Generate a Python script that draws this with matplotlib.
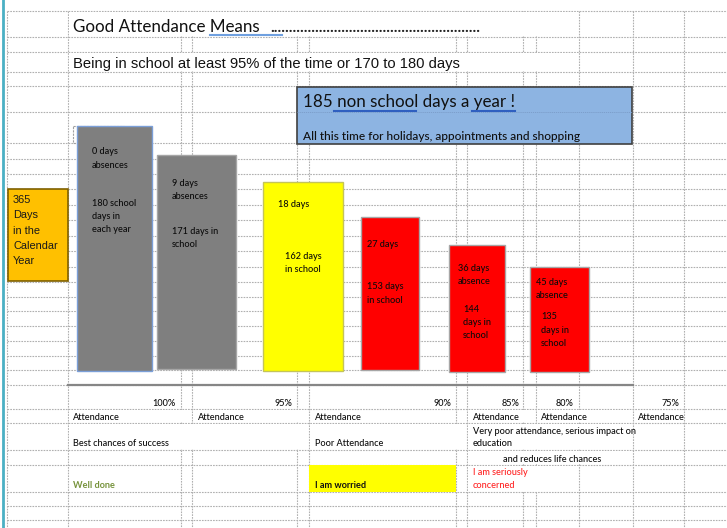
import matplotlib
matplotlib.use('Agg')
import matplotlib.pyplot as plt
from matplotlib.patches import Rectangle

# ---------------- data ----------------
absence_days = [0, 9, 18, 27, 36, 45]
school_days = [180, 171, 162, 153, 144, 135]
bar_heights = [245, 214, 189, 153, 127, 105]   # drawn heights read from the sheet
attendance_pct = ['100%', '95%', '90%', '85%', '80%', '75%']
calendar_days = 365
non_school_days = 185

top_labels = [
    [f'{absence_days[0]} days', 'absences'],
    [f'{absence_days[1]} days', 'absences'],
    [f'{absence_days[2]} days'],
    [f'{absence_days[3]} days'],
    [f'{absence_days[4]} days', 'absence'],
    [f'{absence_days[5]} days', 'absence'],
]
bottom_labels = [
    [f'{school_days[0]} school', 'days in', 'each year'],
    [f'{school_days[1]} days in', 'school'],
    [f'{school_days[2]} days', 'in school'],
    [f'{school_days[3]} days', 'in school'],
    [f'{school_days[4]}', 'days in', 'school'],
    [f'{school_days[5]}', 'days in', 'school'],
]

# ---------------- layout ----------------
W, H = 727, 528
bar_left = [77, 157, 263, 361, 449, 530]
bar_width = [75, 79, 80, 58, 56, 59]
bar_bottom = [371, 369, 371, 370, 372, 372]
bar_colors = ['#7f7f7f', '#7f7f7f', '#ffff00', '#ff0000', '#ff0000', '#ff0000']
bar_edges = ['#7b9fd8', '#a6a6a6', '#c4c45a', '#a6a6a6', '#a6a6a6', '#a6a6a6']
top_x = [92, 172, 278, 367, 458, 536]
top_y = [154.3, 185.7, 206.7, 246.7, 270.7, 284.7]
bot_x = [92, 172, 285, 367, 463, 541]
bot_y = [205.7, 233.7, 259, 289.3, 311.7, 319.3]
line_step = 13.3
pct_right = [176, 292, 451, 519, 574, 679]

VX = [7, 68, 181, 192, 297, 309, 456, 467, 523, 536, 579, 633, 684]
HY = [11, 37, 52, 72, 86, 112, 143, 159, 174, 189, 205, 220, 236, 251, 267,
      282, 297, 311, 326, 341, 356, 370, 385, 409, 423, 450, 465, 492, 506, 520]
merged = [(68, 579, 11, 37), (68, 579, 52, 72),
          (68, 192, 409, 423), (192, 309, 409, 423), (467, 536, 409, 423), (536, 633, 409, 423),
          (68, 309, 423, 450), (309, 467, 423, 450), (467, 633, 423, 450),
          (467, 633, 450, 465), (467, 579, 465, 492)]

CAL = ['Lato', 'DejaVu Sans']
ARI = ['Liberation Sans', 'DejaVu Sans']
TXT = '#0a0a0a'
SW = 500

fig = plt.figure(figsize=(W / 100, H / 100), dpi=100)
ax = fig.add_axes([0, 0, 1, 1])
ax.set_xlim(0, W)
ax.set_ylim(H, 0)
ax.axis('off')
renderer = fig.canvas.get_renderer()


def fit_size(s, width, family, weight='normal'):
    t = ax.text(0, 0, s, fontsize=10, family=family, weight=weight)
    w = t.get_window_extent(renderer).width
    t.remove()
    return 10 * width / w


# ---------------- grid ----------------
gstyle = dict(color='#b0b0b0', lw=0.8, linestyle=(0, (1.5, 1.0)), zorder=1)
for x in VX:
    ax.plot([x, x], [11, H], **gstyle)
for y in HY:
    ax.plot([7, W], [y, y], **gstyle)
for (x0, x1, y0, y1) in merged:
    ax.add_patch(Rectangle((x0 + 1, y0 + 0.8), x1 - x0 - 2, y1 - y0 - 1.6,
                           facecolor='white', edgecolor='none', zorder=1.5))
ax.plot([2.5, 2.5], [0, H], color='#4bb0c4', lw=2, zorder=5)

# axis line
ax.plot([68, 633], [385, 385], color='#868686', lw=1.6, zorder=2)

# ---------------- headings ----------------
fs_title = fit_size('Good Attendance Means', 187, CAL)
ax.text(73, 32, 'Good Attendance Means', fontsize=fs_title, family=CAL, color='#111111',
        va='baseline', zorder=6)
fs_dots = fit_size('.' * 56, 207, CAL, 'bold')
ax.text(270, 32, '.' * 56, fontsize=fs_dots, family=CAL, weight='bold', color='#222222',
        va='baseline', zorder=6)
ax.plot([210, 282], [35, 35], color='#6fa0e0', lw=1.5, zorder=6)

sub = 'Being in school at least 95% of the time or 170 to 180 days'
fs_sub = fit_size(sub, 385, ARI)
ax.text(73, 68, sub, fontsize=fs_sub, family=ARI, color='#111111', va='baseline', zorder=6)

# blue box
ax.add_patch(Rectangle((297, 87), 335, 57, facecolor='#8db4e2', edgecolor='#404040',
                       lw=1.2, zorder=3))
ax.plot([297, 632], [112, 112], color='#7a9cc8', lw=0.6, linestyle=(0, (1.5, 1.0)), zorder=3.5)
h1 = f'{non_school_days} non school days a year !'
fs_h1 = fit_size(h1, 212, CAL)
ax.text(303, 107, h1, fontsize=fs_h1, family=CAL, color='#111111', va='baseline', zorder=6)
ax.plot([334, 416], [111, 111], color='#2f5fc0', lw=1.5, zorder=6)
ax.plot([472, 515], [111, 111], color='#2f5fc0', lw=1.5, zorder=6)
h2 = 'All this time for holidays, appointments and shopping'
fs_h2 = fit_size(h2, 280, CAL, SW)
ax.text(303, 140, h2, fontsize=fs_h2, family=CAL, weight=SW, color='#111111',
        va='baseline', zorder=6)

# chart-title placeholder
ax.add_patch(Rectangle((73, 126), 51, 17, facecolor='none', edgecolor='#a0a0a0', lw=0.8,
                       linestyle=(0, (2, 1)), zorder=2))

# ---------------- calendar box ----------------
ax.bar([8], [-92], width=60, bottom=281, align='edge', color='#ffc000',
       edgecolor='#7f6000', linewidth=1.2, zorder=3)
cal_lines = [str(calendar_days), 'Days', 'in the', 'Calendar', 'Year']
fs_cal = fit_size('Calendar', 45, ARI)
for i, s in enumerate(cal_lines):
    ax.text(13, 203 + i * 15.3, s, fontsize=fs_cal, family=ARI, color='#1a1a1a',
            va='baseline', zorder=6)

# ---------------- bars ----------------
ax.bar(bar_left, [-h for h in bar_heights], width=bar_width, bottom=bar_bottom,
       align='edge', color=bar_colors, edgecolor=bar_edges, linewidth=1.0, zorder=3)

fs_bar = fit_size('180 school', 44, CAL, SW)
for i in range(len(bar_heights)):
    for j, s in enumerate(top_labels[i]):
        ax.text(top_x[i], top_y[i] + j * line_step, s, fontsize=fs_bar, family=CAL,
                weight=SW, color=TXT, va='baseline', zorder=6)
    for j, s in enumerate(bottom_labels[i]):
        ax.text(bot_x[i], bot_y[i] + j * line_step, s, fontsize=fs_bar, family=CAL,
                weight=SW, color=TXT, va='baseline', zorder=6)

# ---------------- lower table ----------------
fs_small = fit_size('Best chances of success', 97, CAL, SW)
small = dict(fontsize=fs_small, family=CAL, weight=SW, va='baseline', zorder=6)
for s, xr in zip(attendance_pct, pct_right):
    ax.text(xr, 406, s, color=TXT, ha='right', **small)
for xa in [73, 198, 315, 473, 541, 638]:
    ax.text(xa, 420, 'Attendance', color=TXT, **small)

ax.text(73, 446, 'Best chances of success', color=TXT, **small)
ax.text(315, 446, 'Poor Attendance', color=TXT, **small)
ax.text(473, 434, 'Very poor attendance, serious impact on', color=TXT, **small)
ax.text(473, 446, 'education', color=TXT, **small)
ax.text(503, 462, 'and reduces life chances', color=TXT, **small)

bold = dict(small, weight='bold')
ax.text(73, 488, 'Well done', color='#77933c', **bold)
ax.add_patch(Rectangle((309, 465), 147, 27, facecolor='#ffff00', edgecolor='none', zorder=3))
ax.text(315, 488, 'I am worried', color='#111111', **bold)
ax.text(473, 475, 'I am seriously', color='#ff2020', **small)
ax.text(473, 488, 'concerned', color='#ff2020', **small)

fig.savefig('out.png', dpi=100, facecolor='white')
